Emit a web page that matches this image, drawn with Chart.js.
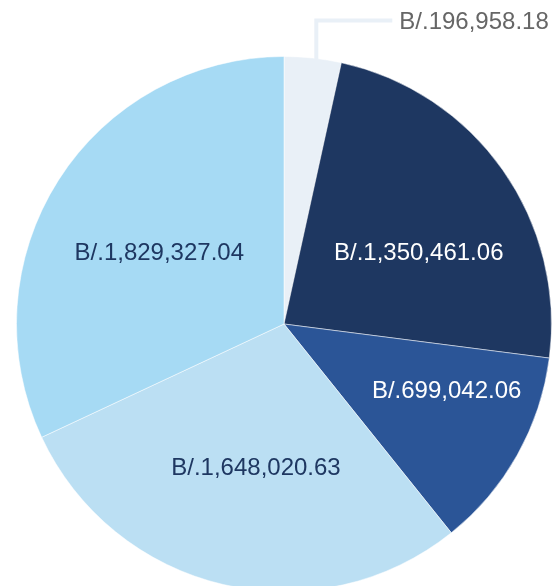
<!DOCTYPE html>
<html>
<head>
<meta charset="utf-8">
<script src="https://cdn.jsdelivr.net/npm/chart.js@4.4.1/dist/chart.umd.min.js"></script>
<style>
  html, body { margin: 0; padding: 0; background: #ffffff; overflow: hidden; }
  #wrap { width: 557px; height: 586px; overflow: hidden; }
</style>
</head>
<body>
<div id="wrap"><canvas id="c" width="557" height="600"></canvas></div>
<script>
const categories = ['Categoría 1', 'Categoría 2', 'Categoría 3', 'Categoría 4', 'Categoría 5'];
const values = [196958.18, 1350461.06, 699042.06, 1648020.63, 1829327.04];
const valueLabels = ['B/.196,958.18', 'B/.1,350,461.06', 'B/.699,042.06', 'B/.1,648,020.63', 'B/.1,829,327.04'];
const sliceColors = ['#e9f0f7', '#1e3761', '#2b5597', '#bbdff3', '#a6daf4'];
const labelColors = ['#666666', '#ffffff', '#ffffff', '#1e3761', '#1e3761'];

// label placement within each slice: fraction along the angle, fraction of radius
const labelAngleFrac = [0.5, 0.583, 0.335, 0.48, 0.478];
const labelRadiusFrac = [0.6, 0.571, 0.656, 0.547, 0.538];
const outsideLabels = [true, false, false, false, false];

const labelPlugin = {
  id: 'sliceLabels',
  afterDatasetsDraw(chart) {
    const ctx = chart.ctx;
    const meta = chart.getDatasetMeta(0);
    ctx.save();
    ctx.font = '24px "Liberation Sans", Arial, sans-serif';
    meta.data.forEach((arc, i) => {
      const p = arc.getProps(['x', 'y', 'startAngle', 'endAngle', 'outerRadius'], true);
      if (outsideLabels[i]) {
        const a = p.startAngle + 0.56 * (p.endAngle - p.startAngle);
        const ex = p.x + Math.cos(a) * p.outerRadius;
        const ey = p.y + Math.sin(a) * p.outerRadius;
        const topY = p.y - p.outerRadius - 36;
        const endX = ex + 76;
        ctx.strokeStyle = sliceColors[i];
        ctx.lineWidth = 4;
        ctx.lineJoin = 'miter';
        ctx.beginPath();
        ctx.moveTo(ex, ey + 1);
        ctx.lineTo(ex, topY);
        ctx.lineTo(endX, topY);
        ctx.stroke();
        ctx.fillStyle = labelColors[i];
        ctx.textAlign = 'left';
        ctx.textBaseline = 'middle';
        ctx.fillText(valueLabels[i], endX + 7, topY + 2);
      } else {
        const a = p.startAngle + labelAngleFrac[i] * (p.endAngle - p.startAngle);
        const r = labelRadiusFrac[i] * p.outerRadius;
        const tx = p.x + Math.cos(a) * r;
        const ty = p.y + Math.sin(a) * r;
        ctx.fillStyle = labelColors[i];
        ctx.textAlign = 'center';
        ctx.textBaseline = 'middle';
        ctx.fillText(valueLabels[i], tx, ty + 1);
      }
    });
    ctx.restore();
  }
};

new Chart(document.getElementById('c'), {
  type: 'pie',
  data: {
    labels: categories,
    datasets: [{
      data: values,
      backgroundColor: sliceColors,
      borderColor: 'rgba(255,255,255,0.5)',
      borderWidth: 1
    }]
  },
  options: {
    responsive: false,
    animation: false,
    layout: { padding: { left: 16, right: 5, top: 56, bottom: 8 } },
    plugins: {
      legend: { display: false },
      tooltip: { enabled: false }
    }
  },
  plugins: [labelPlugin]
});
</script>
</body>
</html>
